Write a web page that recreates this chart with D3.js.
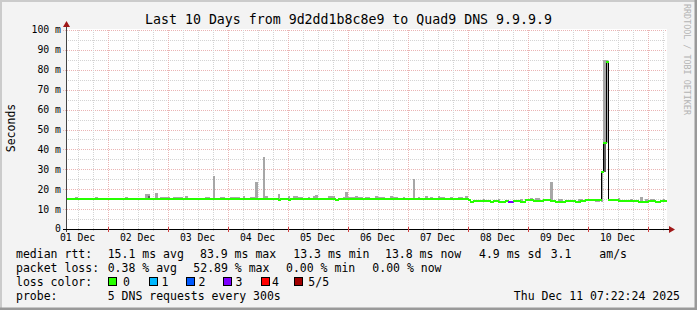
<!DOCTYPE html>
<html>
<head>
<meta charset="utf-8">
<script src="https://cdn.jsdelivr.net/npm/d3@7"></script>
<style>
  body { margin: 0; background: #f3f3f3; }
  svg { display: block; font-family: "DejaVu Sans Mono", monospace; }
</style>
</head>
<body>
<svg width="697" height="310"></svg>
<script>
// time range of the graph
const startTime = "2025-12-01 07:22";
const endTime = "2025-12-11 07:22";

// median rtt runs: [start, ms, lost pings]; each lasts until the next one
const medianRuns = [
    ["2025-12-01 07:22", 15.2, 0],
    ["2025-12-04 20:00", 14.8, 0],
    ["2025-12-04 21:00", 15.2, 0],
    ["2025-12-05 00:00", 14.8, 0],
    ["2025-12-05 01:00", 15.2, 0],
    ["2025-12-05 19:00", 14.8, 0],
    ["2025-12-05 20:00", 15.2, 0],
    ["2025-12-08 00:00", 14.4, 0],
    ["2025-12-08 01:00", 13.6, 0],
    ["2025-12-08 02:00", 14.2, 0],
    ["2025-12-08 06:00", 13.9, 0],
    ["2025-12-08 07:00", 14.2, 0],
    ["2025-12-08 09:00", 13.4, 0],
    ["2025-12-08 10:00", 14.1, 0],
    ["2025-12-08 12:00", 13.6, 0],
    ["2025-12-08 15:00", 14.1, 0],
    ["2025-12-08 16:00", 13.6, 3],
    ["2025-12-08 18:00", 14.1, 0],
    ["2025-12-08 19:00", 13.9, 0],
    ["2025-12-08 21:00", 13.6, 0],
    ["2025-12-08 23:00", 14.4, 0],
    ["2025-12-09 02:00", 14.2, 0],
    ["2025-12-09 04:00", 14.1, 0],
    ["2025-12-09 06:00", 14.6, 0],
    ["2025-12-09 09:00", 14.2, 0],
    ["2025-12-09 11:00", 13.7, 0],
    ["2025-12-09 15:00", 14.1, 0],
    ["2025-12-09 19:00", 13.6, 0],
    ["2025-12-09 21:00", 14.2, 0],
    ["2025-12-09 23:00", 14.4, 0],
    ["2025-12-10 05:15", 28.5, 0],
    ["2025-12-10 06:20", 43.0, 0],
    ["2025-12-10 07:10", 84.0, 0],
    ["2025-12-10 08:00", 14.4, 0],
    ["2025-12-10 12:00", 13.9, 0],
    ["2025-12-10 16:00", 14.2, 0],
    ["2025-12-10 20:00", 13.6, 0],
    ["2025-12-11 00:00", 14.1, 0],
    ["2025-12-11 03:00", 13.6, 0],
    ["2025-12-11 05:00", 14.2, 0]
];

// smoke (spread of the pings): [start, hours, low ms, high ms]
const smoke = [
    ["2025-12-01 11:00", 1, 15, 16.2],
    ["2025-12-01 19:00", 1, 15, 16.2],
    ["2025-12-02 07:00", 1, 15, 16.2],
    ["2025-12-02 15:00", 2, 15, 17.6],
    ["2025-12-02 19:00", 1, 15, 18.2],
    ["2025-12-02 21:00", 4, 15, 16.2],
    ["2025-12-03 02:00", 4, 15, 16.2],
    ["2025-12-03 07:00", 1, 15, 16.8],
    ["2025-12-03 15:00", 2, 15, 16.2],
    ["2025-12-03 18:00", 1, 15, 26.6],
    ["2025-12-03 21:00", 2, 15, 16.2],
    ["2025-12-04 01:00", 4, 15, 16.2],
    ["2025-12-04 06:00", 1, 15, 16.8],
    ["2025-12-04 09:00", 2, 15, 16.2],
    ["2025-12-04 11:00", 1, 15, 23.8],
    ["2025-12-04 14:00", 1, 15, 36.3],
    ["2025-12-04 15:00", 1, 15, 16.6],
    ["2025-12-04 20:00", 1, 15, 17.7],
    ["2025-12-05 00:00", 1, 15, 16.6],
    ["2025-12-05 02:00", 2, 15, 16.6],
    ["2025-12-05 04:00", 2, 15, 16.2],
    ["2025-12-05 08:00", 1, 15, 16.2],
    ["2025-12-05 10:00", 1, 15, 16.6],
    ["2025-12-05 11:00", 1, 15, 17.2],
    ["2025-12-05 16:00", 3, 15, 16.6],
    ["2025-12-05 22:00", 1, 15, 16.2],
    ["2025-12-05 23:00", 1, 15, 18.6],
    ["2025-12-06 00:00", 3, 15, 16.2],
    ["2025-12-06 03:00", 1, 15, 16.8],
    ["2025-12-06 04:00", 2, 15, 16.2],
    ["2025-12-06 07:00", 2, 15, 16.2],
    ["2025-12-06 11:00", 1, 15, 16.6],
    ["2025-12-06 12:00", 3, 15, 16.2],
    ["2025-12-06 17:00", 1, 15, 16.6],
    ["2025-12-06 18:00", 2, 15, 16.2],
    ["2025-12-06 22:00", 1, 15, 16.2],
    ["2025-12-07 02:00", 1, 15, 25.1],
    ["2025-12-07 04:00", 1, 15, 16.2],
    ["2025-12-07 07:00", 1, 15, 16.6],
    ["2025-12-07 09:00", 1, 15, 16.2],
    ["2025-12-07 12:00", 1, 15, 16.6],
    ["2025-12-07 13:00", 2, 15, 16.2],
    ["2025-12-07 17:00", 1, 15, 16.2],
    ["2025-12-07 20:00", 2, 15, 16.2],
    ["2025-12-07 23:00", 1, 15, 16.6],
    ["2025-12-08 06:00", 1, 14, 15.1],
    ["2025-12-08 12:00", 1, 14, 15.1],
    ["2025-12-08 21:00", 1, 14, 15.1],
    ["2025-12-09 01:00", 1, 14, 15.6],
    ["2025-12-09 03:00", 2, 14, 15.6],
    ["2025-12-09 09:00", 1, 14, 23.6],
    ["2025-12-09 12:00", 2, 14, 14.9],
    ["2025-12-09 20:00", 2, 14, 15.1],
    ["2025-12-10 03:00", 2, 13.5, 14.9],
    ["2025-12-10 05:15", 1.1, 13.5, 28.5],
    ["2025-12-10 06:20", 0.85, 28.5, 85],
    ["2025-12-10 07:10", 0.85, 43, 85],
    ["2025-12-10 12:00", 1, 14, 15.4],
    ["2025-12-10 17:00", 1, 14, 14.9],
    ["2025-12-10 21:00", 1, 14, 16.1],
    ["2025-12-10 23:00", 1, 14, 15.0],
    ["2025-12-11 01:00", 2, 14, 14.9],
    ["2025-12-11 06:00", 1, 14, 15.0]
];

// inner smoke, close to the median
const darkSmoke = [
    ["2025-12-02 16:00", 1, 15.2, 16.5],
    ["2025-12-10 06:20", 0.85, 28.5, 43]
];

const yTicks = [0, 10, 20, 30, 40, 50, 60, 70, 80, 90, 100];

const lossLabels = ["0", "1", "2", "3", "4", "5/5"];
const lossColors = ["#26ff00", "#00b8ff", "#0059ff", "#7e00ff", "#ff0000", "#a10000"];

const titleText = "Last 10 Days from 9d2dd1b8c8e9 to Quad9 DNS 9.9.9.9";
const rttStats = ["15.1 ms avg", "83.9 ms max", "13.3 ms min", "13.8 ms now", "4.9 ms sd", "3.1", "am/s"];
const lossStats = ["0.38 % avg", "52.89 % max", "0.00 % min", "0.00 % now"];
const probeText = "5 DNS requests every 300s";
const stampText = "Thu Dec 11 07:22:24 2025";

const W = 697, H = 310;
const plot = {left: 66, right: 666, top: 30, bottom: 229};

const parse = d3.timeParse("%Y-%m-%d %H:%M");
const t0 = parse(startTime), t1 = parse(endTime);

const x = d3.scaleTime().domain([t0, t1]).range([plot.left, plot.right]);
const y = d3.scaleLinear().domain([0, 100]).range([plot.bottom, plot.top]);

const svg = d3.select("svg");

// frame
svg.append("rect").attr("width", W).attr("height", H).attr("fill", "#f3f3f3");
svg.append("path").attr("d", `M0,${H}V0H${W}`).attr("fill", "none")
    .attr("stroke", "#cbcbcb").attr("stroke-width", 4);
svg.append("path").attr("d", `M0,${H}H${W}V0`).attr("fill", "none")
    .attr("stroke", "#999999").attr("stroke-width", 5);

// canvas
svg.append("rect")
    .attr("x", plot.left).attr("y", plot.top - 1)
    .attr("width", plot.right - plot.left + 1).attr("height", plot.bottom - plot.top + 1)
    .attr("fill", "#ffffff");

const grid = svg.append("g").attr("shape-rendering", "crispEdges").attr("stroke-width", 1)
    .attr("stroke-dasharray", "1,1");

// horizontal grid, 5 ms minor, 10 ms major
const hMinor = d3.range(5, 100, 10);
grid.selectAll(".hmin").data(hMinor).enter().append("line")
    .attr("x1", plot.left).attr("x2", plot.right)
    .attr("y1", d => Math.round(y(d)) + 0.5).attr("y2", d => Math.round(y(d)) + 0.5)
    .attr("stroke", "#d4d4d4");
grid.selectAll(".hmaj").data(yTicks.slice(1)).enter().append("line")
    .attr("x1", plot.left - 3).attr("x2", plot.right)
    .attr("y1", d => Math.round(y(d)) + 0.5).attr("y2", d => Math.round(y(d)) + 0.5)
    .attr("stroke", "#eab4b4");

// vertical grid, 6 h minor, days major
const sixHours = d3.timeHour.every(6).range(t0, t1).filter(d => d.getHours() !== 0);
const days = d3.timeDay.range(t0, t1);
grid.selectAll(".vmin").data(sixHours).enter().append("line")
    .attr("x1", d => Math.round(x(d)) + 0.5).attr("x2", d => Math.round(x(d)) + 0.5)
    .attr("y1", plot.top).attr("y2", plot.bottom + 2)
    .attr("stroke", "#d4d4d4");
grid.selectAll(".vmaj").data(days).enter().append("line")
    .attr("x1", d => Math.round(x(d)) + 0.5).attr("x2", d => Math.round(x(d)) + 0.5)
    .attr("y1", plot.top).attr("y2", plot.bottom + 2)
    .attr("stroke", "#eab4b4");

// smoke
const data = svg.append("g").attr("shape-rendering", "crispEdges");
function bands(rows, colour) {
    data.append("g").selectAll("rect").data(rows).enter().append("rect")
        .attr("x", d => x(parse(d[0])))
        .attr("width", d => x(d3.timeMinute.offset(parse(d[0]), d[1] * 60)) - x(parse(d[0])))
        .attr("y", d => y(d[3]))
        .attr("height", d => y(d[2]) - y(d[3]))
        .attr("fill", colour);
}
bands(smoke, "#a7a7a7");
bands(darkSmoke, "#616161");

// median: black step verticals, then coloured horizontals
const runs = medianRuns.map((d, i) => ({
    start: parse(d[0]),
    end: i + 1 < medianRuns.length ? parse(medianRuns[i + 1][0]) : t1,
    v: d[1],
    loss: d[2]
}));
const ySnap = v => Math.round(y(v));
data.append("g").selectAll("line").data(runs.slice(1)).enter().append("line")
    .attr("x1", d => Math.round(x(d.start)) + 0.5).attr("x2", d => Math.round(x(d.start)) + 0.5)
    .attr("y1", (d, i) => ySnap(runs[i].v)).attr("y2", d => ySnap(d.v))
    .attr("stroke", "#000").attr("stroke-width", 1);
data.append("g").selectAll("line").data(runs).enter().append("line")
    .attr("x1", d => Math.round(x(d.start))).attr("x2", d => Math.round(x(d.end)) + 1)
    .attr("y1", d => ySnap(d.v)).attr("y2", d => ySnap(d.v))
    .attr("stroke", d => lossColors[d.loss]).attr("stroke-width", 2);

// axes
const axes = svg.append("g").attr("shape-rendering", "crispEdges");
axes.append("line").attr("x1", plot.left + 0.5).attr("x2", plot.left + 0.5)
    .attr("y1", plot.bottom + 3).attr("y2", plot.top - 5).attr("stroke", "#444");
axes.append("line").attr("x1", plot.left - 3).attr("x2", plot.right + 4)
    .attr("y1", plot.bottom + 0.5).attr("y2", plot.bottom + 0.5).attr("stroke", "#000");
axes.selectAll(".xt").data(days).enter().append("line")
    .attr("x1", d => Math.round(x(d)) + 0.5).attr("x2", d => Math.round(x(d)) + 0.5)
    .attr("y1", plot.bottom - 2).attr("y2", plot.bottom + 3).attr("stroke", "#d04040");
svg.append("path")
    .attr("d", `M${plot.left + 0.5},${plot.top - 9}l-3.5,6h7z`).attr("fill", "#a01818");
svg.append("path")
    .attr("d", `M${plot.right + 9},${plot.bottom + 0.5}l-6,-3.5v7z`).attr("fill", "#a01818");

// y labels
svg.append("g").selectAll("text").data(yTicks).enter().append("text")
    .attr("x", 61).attr("y", d => y(d)).attr("dy", "0.35em")
    .attr("text-anchor", "end").attr("font-size", "9.8px").attr("fill", "#000")
    .text(d => d === 0 ? "0" : d + " m");

// x labels sit at noon of each day
const noons = d3.timeDay.range(d3.timeDay.floor(t0), t1)
    .map(d => d3.timeHour.offset(d, 12))
    .filter(d => d > t0 && d < t1);
svg.append("g").selectAll("text").data(noons).enter().append("text")
    .attr("x", d => x(d)).attr("y", 238).attr("dy", "0.35em")
    .attr("text-anchor", "middle").attr("font-size", "9.8px")
    .text(d => d3.timeFormat("%d %b")(d));

// title, unit, watermark
svg.append("text").attr("x", W / 2).attr("y", 19).attr("dy", "0.35em")
    .attr("text-anchor", "middle").attr("font-size", "13.25px").text(titleText);
svg.append("text").attr("transform", "translate(11,128) rotate(-90)").attr("dy", "0.35em")
    .attr("text-anchor", "middle").attr("font-size", "11.5px").text("Seconds");
svg.append("text").attr("transform", "translate(687,4) rotate(90)").attr("dy", "0.35em")
    .attr("font-size", "8.4px").attr("fill", "#b4b4b4").text("RRDTOOL / TOBI OETIKER");

// legend
const lg = svg.append("g").attr("font-size", "11.5px").attr("fill", "#000");
function put(str, px, py, anchor) {
    lg.append("text").attr("x", px).attr("y", py).attr("dy", "0.35em")
        .attr("text-anchor", anchor || "start").attr("xml:space", "preserve").text(str);
}
put("median rtt:", 16, 254);
[107.7, 200, 293.3, 385, 479, 550.7, 599.3].forEach((px, i) => put(rttStats[i], px, 254));
put("packet loss:", 16, 268);
[107.7, 193.3, 286, 372.3].forEach((px, i) => put(lossStats[i], px, 268));
put("loss color:", 16, 282);
const boxX = [108, 148.5, 186, 223, 260.5, 293.5];
const labX = [123, 161.5, 198.5, 235.5, 272, 308.3];
lossLabels.forEach((l, i) => {
    lg.append("rect").attr("x", boxX[i] + 0.5).attr("y", 277.5).attr("width", 8).attr("height", 8)
        .attr("fill", lossColors[i]).attr("stroke", "#000").attr("stroke-width", 1)
        .attr("shape-rendering", "crispEdges");
    put(l, labX[i], 282);
});
put("probe:", 16, 296);
put(probeText, 107.7, 296);
put(stampText, 680, 296, "end");
</script>
</body>
</html>
